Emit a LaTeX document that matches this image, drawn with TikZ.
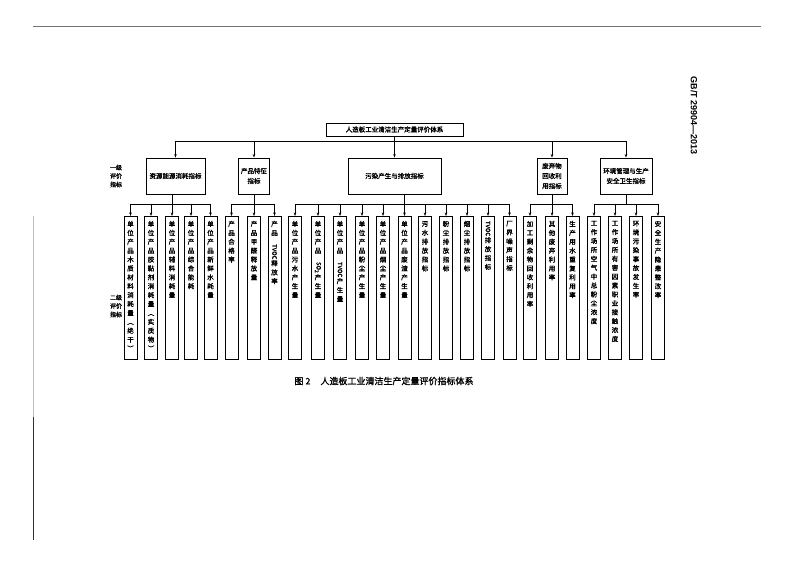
\documentclass[tikz,border=0pt]{standalone}
\usepackage{fontspec}
\setmainfont{Liberation Sans}
\newfontfamily\cjk[AutoFakeBold=1.5]{Noto Sans CJK SC}
\usepackage{graphicx}
\usetikzlibrary{arrows.meta}

% stack the characters of a column one below the other
\def\stopmark{\stopmark}
\def\colloop#1{\def\coltmp{#1}\ifx\coltmp\stopmark\else\hbox to 7pt{\hss#1\hss}\expandafter\colloop\fi}
\newcommand\colstack[1]{\vbox to 134pt{\baselineskip=8.9pt\lineskiplimit=0pt\colloop#1\stopmark\vfil}}
\newcommand\upright[1]{\rotatebox{-90}{\fontsize{6}{7}\selectfont #1}}

\tikzset{
  titlebox/.style={draw, line width=0.9pt, minimum width=137pt, minimum height=13pt, inner sep=0pt, font=\cjk\bfseries\fontsize{6.5}{8}\selectfont},
  levelbox/.style={draw, line width=0.9pt, minimum height=36pt, inner sep=1pt, align=center, font=\cjk\bfseries\fontsize{6.5}{10}\selectfont},
  colbox/.style={draw, line width=0.9pt, anchor=north, inner xsep=3pt, inner ysep=4.5pt, font=\cjk\bfseries\fontsize{6.5}{8.9}\selectfont},
  sidelabel/.style={align=center, inner sep=0pt, font=\cjk\bfseries\fontsize{6}{8.5}\selectfont},
  feed/.style={-{Stealth[length=3.5pt,width=2.6pt]}, line width=0.6pt},
  wire/.style={line width=0.6pt}
}

\begin{document}
\begin{tikzpicture}[x=1pt, y=-1pt]
  \useasboundingbox (0,0) rectangle (793,561);
  % page rules
  \draw[black!55, line width=0.5pt] (33,26) -- (761,26);
  \draw[black!25, line width=0.4pt] (33,216) -- (33,417);
  \draw[black!80, line width=0.6pt] (33,417) -- (33,540);
  \node[rotate=-90, inner sep=0pt, font=\bfseries\fontsize{9}{10}\selectfont] (std) at (694,116) {GB/T 29904\textemdash 2013};

  % top
  \node[titlebox] (title) at (394.5,129.5) {人造板工业清洁生产定量评价体系};
  \coordinate (bus) at (0,141);
  \coordinate (sub) at (0,204);

  % level one
  \node[sidelabel] (lab1) at (116,176) {一级\\评价\\指标};
  \node[levelbox, minimum width=59pt] (g1) at (175.5,176) {资源能源消耗指标};
  \node[levelbox, minimum width=31pt] (g2) at (254,176) {产品特征\\指标};
  \node[levelbox, minimum width=93pt] (g3) at (394.5,176) {污染产生与排放指标};
  \node[levelbox, minimum width=30pt] (g4) at (552,176) {废弃物\\回收利\\用指标};
  \node[levelbox, minimum width=52pt] (g5) at (626,176) {环境管理与生产\\安全卫生指标};

  % level two
  \node[sidelabel] (lab2) at (116,306) {二级\\评价\\指标};
  \node[colbox] (a1) at (130.5,216) {\colstack{单位产品木质材料消耗量︵绝干︶}};
  \node[colbox] (a2) at (151,216) {\colstack{单位产品胶黏剂消耗量︵实质物︶}};
  \node[colbox] (a3) at (172,216) {\colstack{单位产品辅料消耗量}};
  \node[colbox] (a4) at (191,216) {\colstack{单位产品综合能耗}};
  \node[colbox] (a5) at (210.5,216) {\colstack{单位产品新鲜水耗量}};

  \node[colbox] (b1) at (231.5,216) {\colstack{产品合格率}};
  \node[colbox] (b2) at (254,216) {\colstack{产品甲醛释放量}};
  \node[colbox] (b3) at (274.5,216) {\colstack{产品{\upright{TVOC}}释放率}};

  \node[colbox] (c1) at (295,216) {\colstack{单位产品污水产生量}};
  \node[colbox] (c2) at (318,216) {\colstack{单位产品{\upright{SO\textsubscript{2}}}产生量}};
  \node[colbox] (c3) at (340,216) {\colstack{单位产品{\upright{TVOC}}产生量}};
  \node[colbox] (c4) at (362,216) {\colstack{单位产品粉尘产生量}};
  \node[colbox] (c5) at (383,216) {\colstack{单位产品烟尘产生量}};
  \node[colbox] (c6) at (404.5,216) {\colstack{单位产品废渣产生量}};
  \node[colbox] (c7) at (425,216) {\colstack{污水排放指标}};
  \node[colbox] (c8) at (446,216) {\colstack{粉尘排放指标}};
  \node[colbox] (c9) at (467,216) {\colstack{烟尘排放指标}};
  \node[colbox] (c10) at (488,216) {\colstack{{\upright{TVOC}}排放指标}};
  \node[colbox] (c11) at (509.5,216) {\colstack{厂界噪声指标}};

  \node[colbox] (d1) at (530,216) {\colstack{加工剩余物回收利用率}};
  \node[colbox] (d2) at (552,216) {\colstack{其他废弃利用率}};
  \node[colbox] (d3) at (572.5,216) {\colstack{生产用水重复利用率}};

  \node[colbox] (e1) at (594,216) {\colstack{工作场所空气中总粉尘浓度}};
  \node[colbox] (e2) at (615,216) {\colstack{工作场所有害因素职业接触浓度}};
  \node[colbox] (e3) at (636,216) {\colstack{环境污染事故发生率}};
  \node[colbox] (e4) at (658,216) {\colstack{安全生产隐患整改率}};

  % caption
  \node[inner sep=0pt, font=\cjk\bfseries\fontsize{9}{11}\selectfont] (cap) at (384,381) {图 2\hspace{10pt}人造板工业清洁生产定量评价指标体系};

  % connectors, top to level one
  \draw[wire] (title.south) -- (title.south |- bus);
  \draw[wire] (g1.north |- bus) -- (g5.north |- bus);
  \foreach \g in {g1,g2,g3,g4,g5}
    \draw[feed] (\g.north |- bus) -- (\g.north);

  % level one to level two
  \draw[wire] (a3.north |- g1.south) -- (a3.north |- sub);
  \draw[wire] (b2.north |- g2.south) -- (b2.north |- sub);
  \draw[wire] (c6.north |- g3.south) -- (c6.north |- sub);
  \draw[wire] (d2.north |- g4.south) -- (d2.north |- sub);
  \draw[wire] (g5.south) -- (g5.south |- sub);
  \draw[wire] (a1.north |- sub) -- (a5.north |- sub);
  \draw[wire] (b1.north |- sub) -- (b3.north |- sub);
  \draw[wire] (c1.north |- sub) -- (c11.north |- sub);
  \draw[wire] (d1.north |- sub) -- (d3.north |- sub);
  \draw[wire] (e1.north |- sub) -- (e4.north |- sub);
  \foreach \c in {a1,a2,a3,a4,a5,b1,b2,b3,c1,c2,c3,c4,c5,c6,c7,c8,c9,c10,c11,d1,d2,d3,e1,e2,e3,e4}
    \draw[feed] (\c.north |- sub) -- (\c.north);
\end{tikzpicture}
\end{document}
